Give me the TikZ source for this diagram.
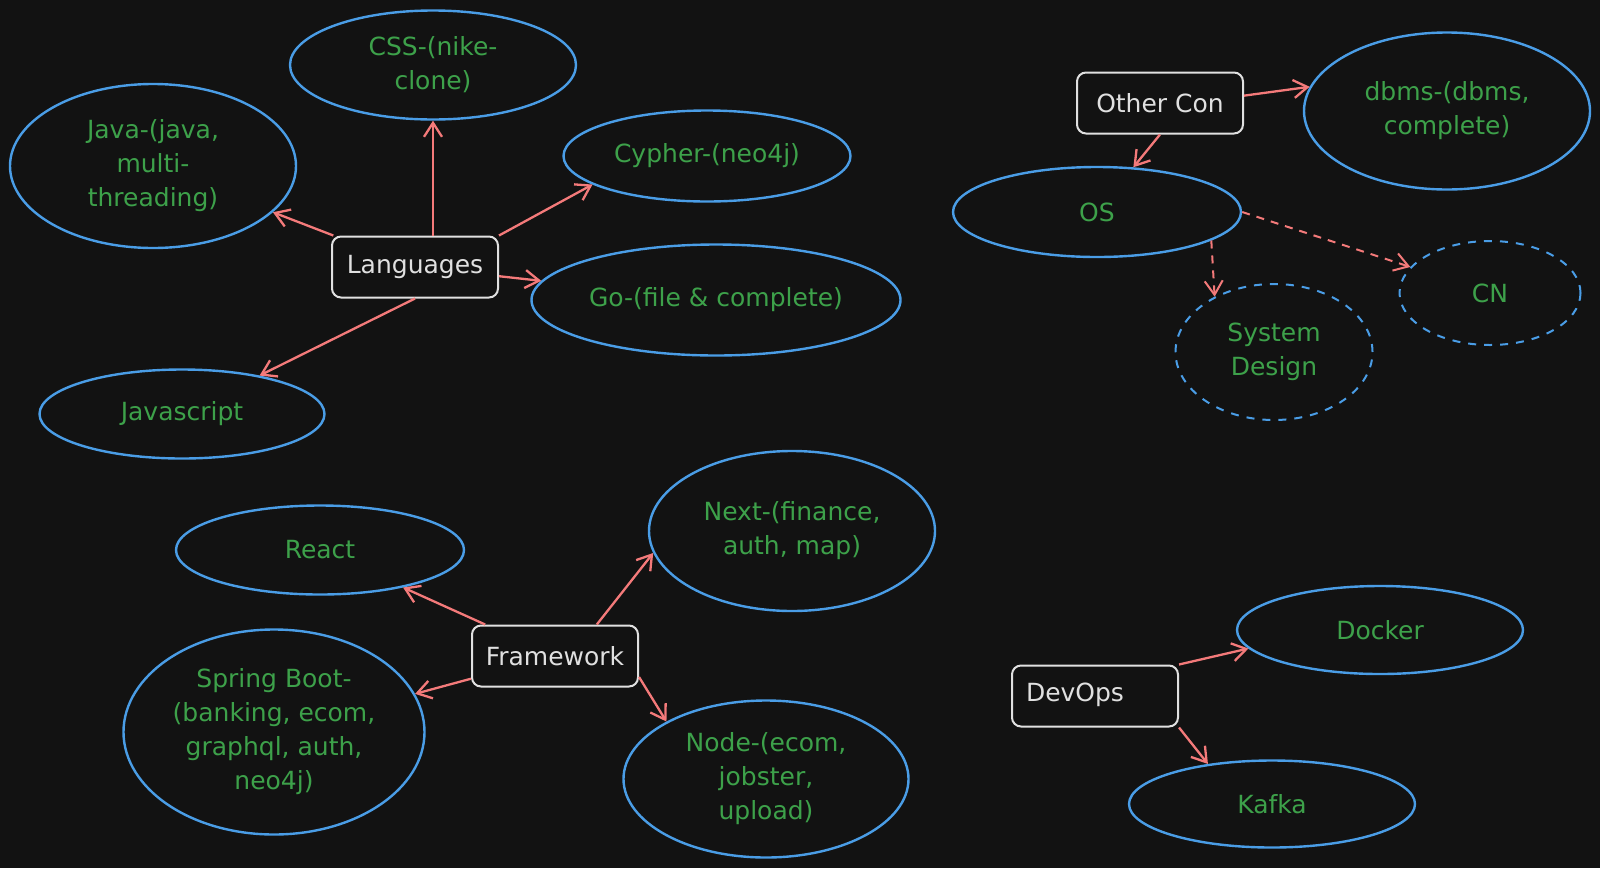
\documentclass[tikz,border=0pt]{standalone}
\usepackage{fontspec}
\setmainfont{DejaVu Sans}
\usetikzlibrary{shapes.geometric,arrows.meta}
\definecolor{bg}{HTML}{121212}
\definecolor{topicblue}{HTML}{4A9DE6}
\definecolor{topicgreen}{HTML}{3DA14A}
\definecolor{linkred}{HTML}{F47A7A}
\definecolor{boxwhite}{HTML}{E0E0E0}
\begin{document}
\begin{tikzpicture}[x=1pt, y=-1pt,
    every node/.style={font=\fontsize{25}{34}\selectfont},
    hub/.style={draw=boxwhite, line width=2pt, rounded corners=9pt, minimum width=166pt, minimum height=61pt, text=boxwhite, inner sep=0pt},
    topic/.style={ellipse, draw=topicblue, line width=2.4pt, text=topicgreen, align=center, inner sep=0pt},
    maybe/.style={topic, line width=2pt, dash pattern=on 8pt off 8pt},
    link/.style={draw=linkred, line width=2.3pt, -{Straight Barb[length=14pt,width=18pt]}},
    maybelink/.style={link, line width=2pt, dash pattern=on 8pt off 7pt}]
    \fill[bg] (0,0) rectangle (1600,868);
    \useasboundingbox (0,0) rectangle (1600,868);

    \node[hub] (lang) at (415, 267) {Languages};
    \node[topic, minimum width=286pt, minimum height=109pt] (css) at (433, 65) {CSS-(nike-\\clone)};
    \node[topic, minimum width=286pt, minimum height=164pt] (java) at (153, 166) {Java-(java,\\multi-\\threading)};
    \node[topic, minimum width=287pt, minimum height=91pt] (cy) at (707, 156) {Cypher-(neo4j)};
    \node[topic, minimum width=369pt, minimum height=111pt] (go) at (716, 300) {Go-(file \& complete)};
    \node[topic, minimum width=285pt, minimum height=89pt] (js) at (182, 414) {Javascript};

    \node[hub] (oc) at (1160, 103) {Other Con};
    \node[topic, minimum width=286pt, minimum height=157pt] (db) at (1447, 111) {dbms-(dbms,\\complete)};
    \node[topic, minimum width=288pt, minimum height=90pt] (os) at (1097, 212) {OS};
    \node[maybe, minimum width=197pt, minimum height=136pt] (sd) at (1274, 352) {System\\Design};
    \node[maybe, minimum width=181pt, minimum height=104pt] (cn) at (1490, 293) {CN};

    \node[hub] (fw) at (555, 656) {Framework};
    \node[topic, minimum width=288pt, minimum height=89pt] (re) at (320, 550) {React};
    \node[topic, minimum width=286pt, minimum height=160pt] (nx) at (792, 531) {Next-(finance,\\auth, map)};
    \node[topic, minimum width=301pt, minimum height=205pt] (sb) at (274, 732) {Spring Boot-\\(banking, ecom,\\graphql, auth,\\neo4j)};
    \node[topic, minimum width=285pt, minimum height=157pt] (nd) at (766, 779) {Node-(ecom,\\jobster,\\upload)};

    \node[hub, text width=138pt, align=left] (dv) at (1095, 696) {\raisebox{8pt}{DevOps}};
    \node[topic, minimum width=286pt, minimum height=88pt] (dk) at (1380, 630) {Docker};
    \node[topic, minimum width=286pt, minimum height=87pt] (kf) at (1272, 804) {Kafka};

    \draw[link] (lang) -- (java);
    \draw[link] (lang.north -| css) -- (css);
    \draw[link] (lang.north east) -- (cy.194);
    \draw[link] (lang) -- (go);
    \draw[link] (lang.south) -- (js);

    \draw[link] (oc.5) -- (db.170);
    \draw[link] (oc.south) -- (os);
    \draw[maybelink] (os.-14) -- (sd.137);
    \draw[maybelink] (os.east) -- (cn);

    \draw[link] (fw) -- (re);
    \draw[link] (fw.37) -- (nx.189);
    \draw[link] (fw) -- (sb);
    \draw[link] (fw.-14) -- (nd.150);

    \draw[link] (dv.north east) -- (dk.188);
    \draw[link] (dv.south east) -- (kf.148);
\end{tikzpicture}
\end{document}
